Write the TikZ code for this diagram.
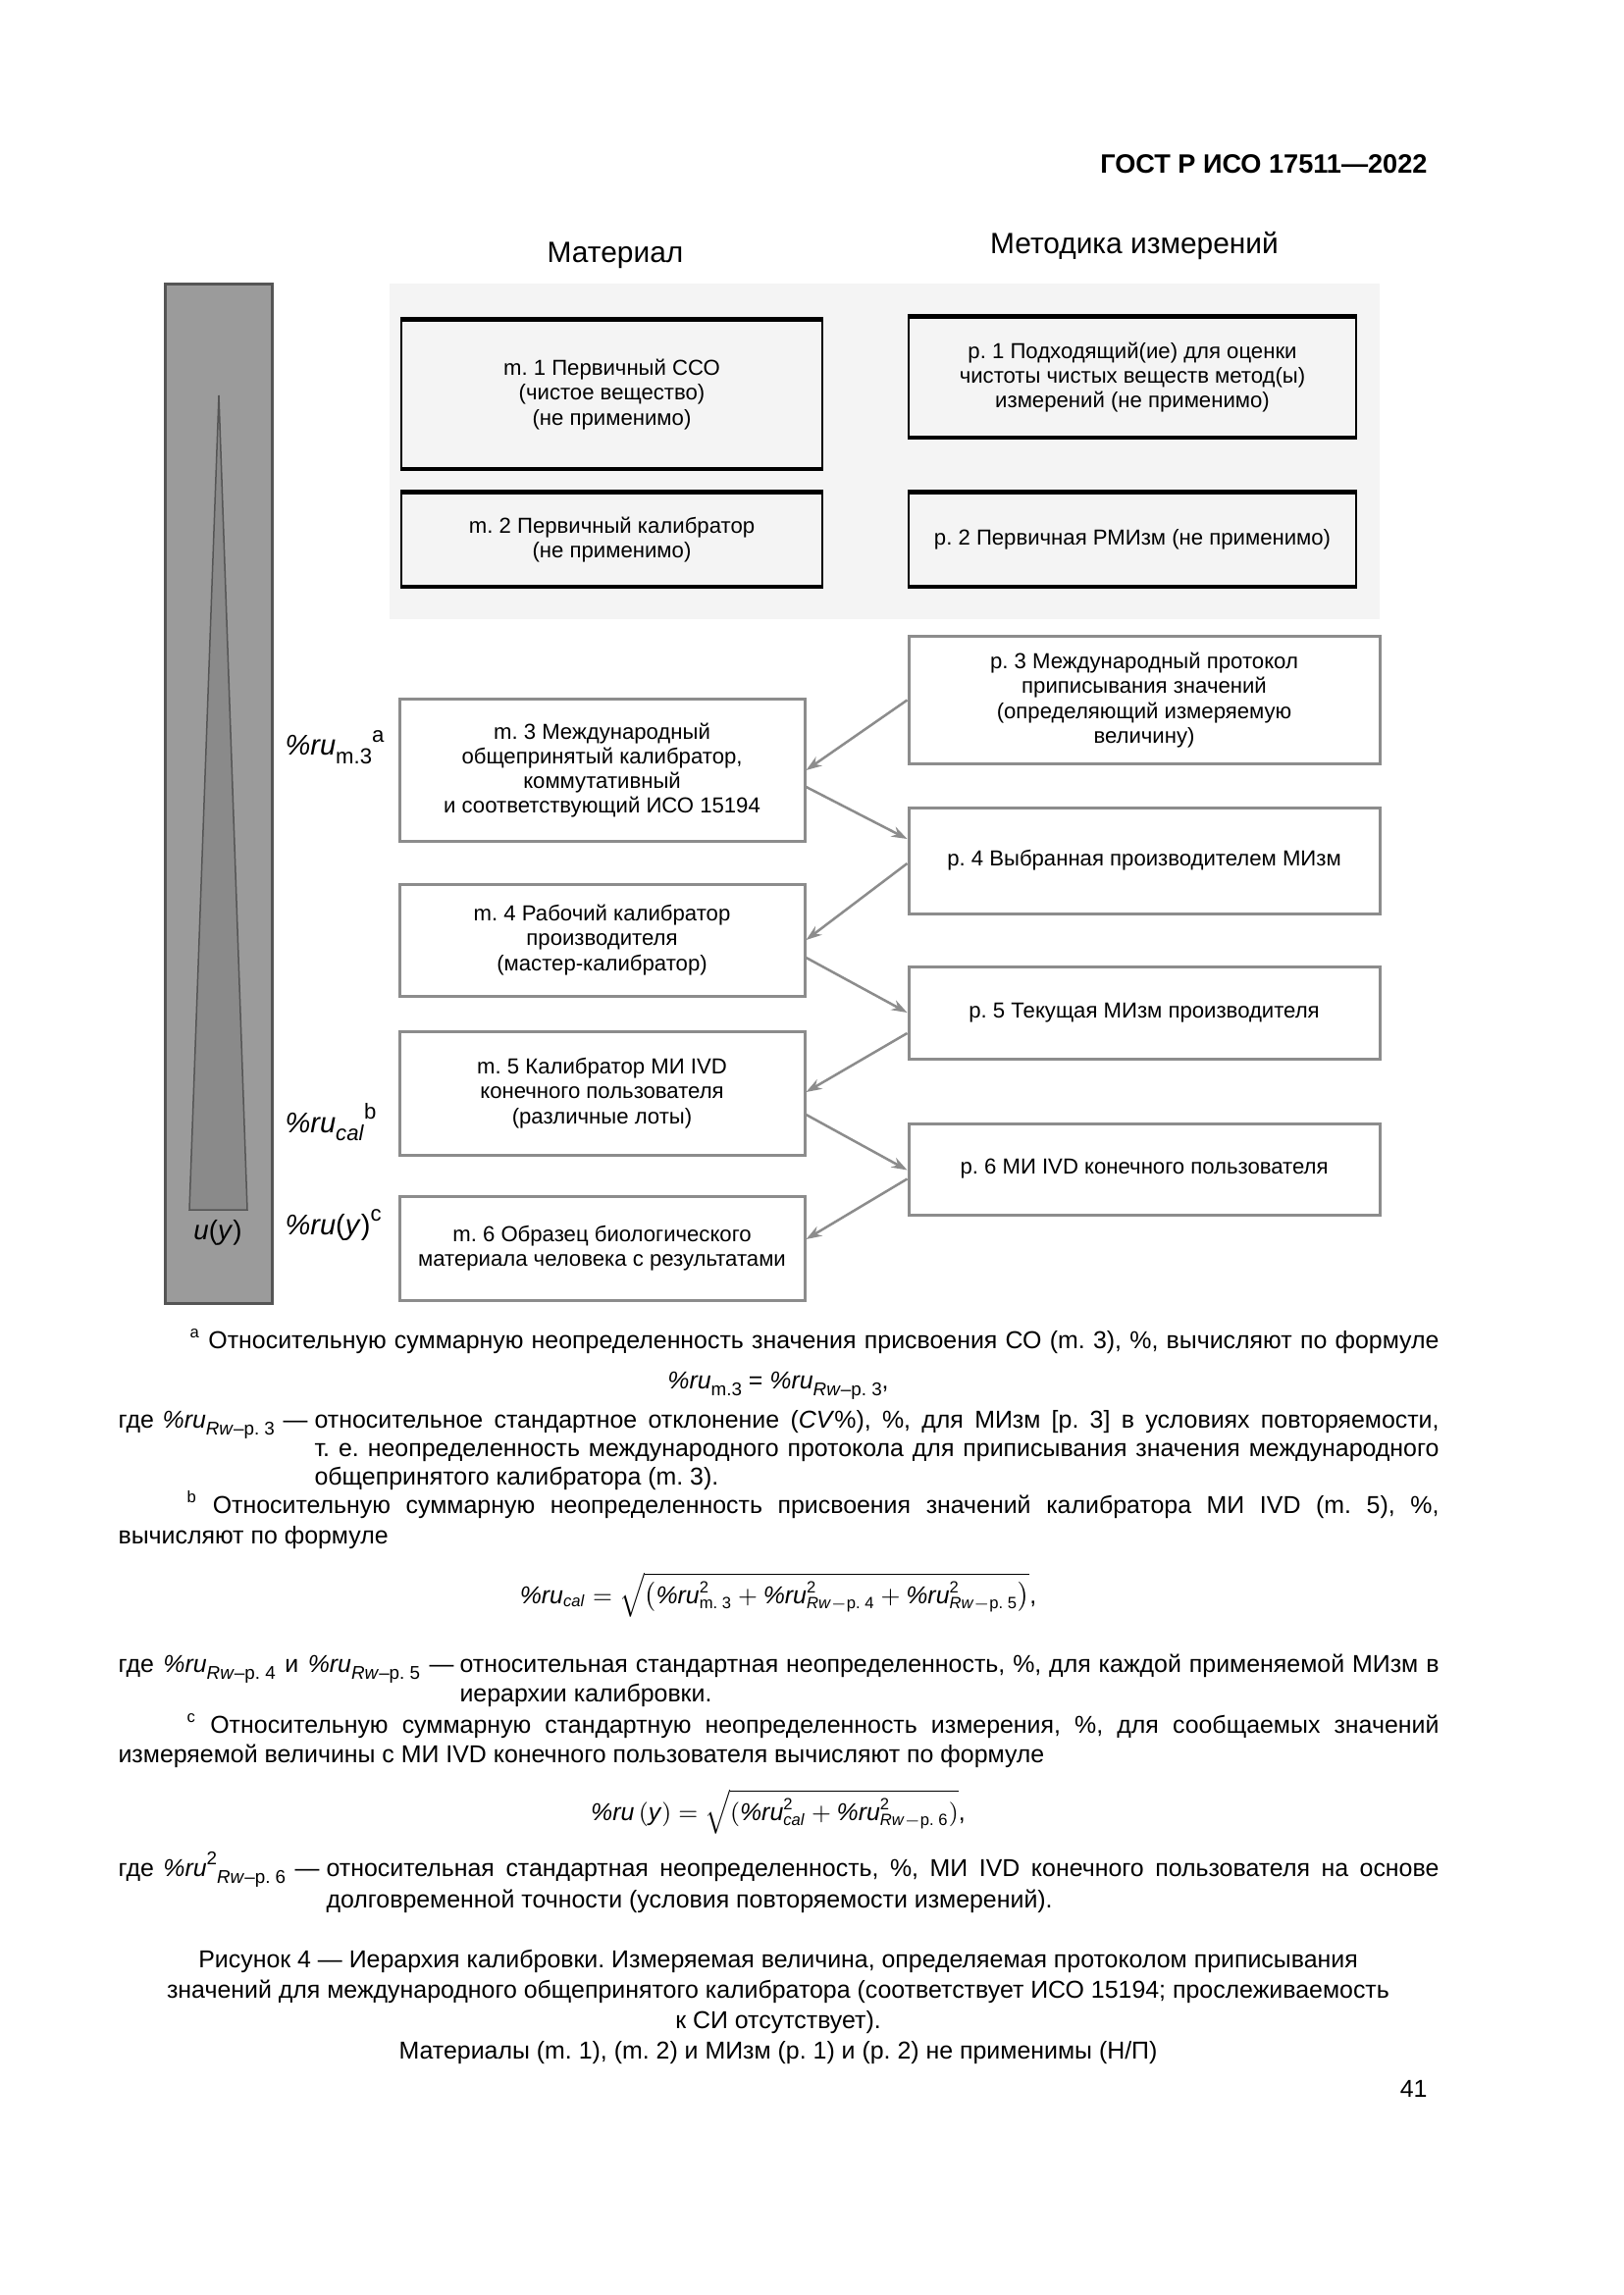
\documentclass[tikz,border=0pt]{standalone}
\usepackage{fontspec}
\usepackage{amsmath}
\setmainfont{Liberation Sans}
\usetikzlibrary{arrows.meta}
\newlength\pxu
\setlength\pxu{0.127mm}
\definecolor{boxgray}{HTML}{8C8C8C}
\definecolor{panel}{HTML}{F4F4F4}
\definecolor{barfill}{HTML}{9B9B9B}
\definecolor{trifill}{HTML}{8A8A8A}
\definecolor{bardraw}{HTML}{555555}
\newcommand\pru{\textit{\%ru}}
\newcommand\fsz[2]{\fontsize{#1}{#2}\selectfont}
\newcommand\sbs[2][6.8]{\raisebox{-0.55ex}{\fontsize{#1}{#1}\selectfont #2}}
\newcommand\sps[2][6.8]{\raisebox{0.9ex}{\fontsize{#1}{#1}\selectfont #2}}
\begin{document}
\frenchspacing
\begin{tikzpicture}[x=0.127mm,y=-0.127mm,
  topbox/.style={draw=black, line width=2.5\pxu, fill=panel, inner sep=0pt, align=center, font=\fsz{8.0}{9.1}\frenchspacing},
  lowbox/.style={draw=boxgray, line width=3\pxu, fill=white, inner sep=0pt, align=center, font=\fsz{8.0}{9.1}\frenchspacing},
  thickedge/.style={draw=black, line width=4.5\pxu},
  conn/.style={draw=boxgray, line width=2.5\pxu, -{Stealth[length=2.03mm, width=1.4mm]}},
  txt/.style={anchor=base west, inner sep=0pt, font=\fsz{9.0}{10}\frenchspacing},
  ctxt/.style={anchor=base, inner sep=0pt, font=\fsz{9.0}{10}\frenchspacing},
  lbl/.style={anchor=base west, inner sep=0pt, font=\fsz{10.5}{12}}]
\useasboundingbox (0,0) rectangle (1654,2339);
\fill[white] (0,0) rectangle (1654,2339);

% header
\node[anchor=base east, inner sep=0pt, font=\fsz{9.8}{11}\bfseries] (hdr) at (1455,177) {ГОСТ Р ИСО 17511—2022};

% column titles
\node[anchor=base, inner sep=0pt, font=\fsz{10.8}{12}] (tmat) at (627,268) {Материал};
\node[anchor=base, inner sep=0pt, font=\fsz{10.8}{12}] (tmet) at (1156,259) {Методика измерений};

% gray bar with triangle
\draw[fill=barfill, draw=bardraw, line width=3\pxu] (168,290) rectangle (277,1328);
\draw[fill=trifill, draw=bardraw, line width=1.5\pxu] (223,403) -- (252,1233) -- (193,1233) -- cycle;
\node[anchor=base, inner sep=0pt, font=\fsz{10}{12}] (uy) at (222,1263) {\textit{u}(\textit{y})};

% panel
\fill[panel] (397,289) rectangle (1406,631);

% upper boxes
\node[topbox, minimum width=429\pxu, minimum height=150\pxu] (m1) at (623.5,402) {m. 1 Первичный ССО\\(чистое вещество)\\(не применимо)};
\node[topbox, minimum width=429\pxu, minimum height=94\pxu] (m2) at (623.5,550) {m. 2 Первичный калибратор\\(не применимо)};
\node[topbox, minimum width=456\pxu, minimum height=121\pxu] (p1) at (1154,384.5) {p. 1 Подходящий(ие) для оценки\\чистоты чистых веществ метод(ы)\\измерений (не применимо)};
\node[topbox, minimum width=456\pxu, minimum height=94\pxu] (p2) at (1154,550) {p. 2 Первичная РМИзм (не применимо)};
\foreach \b in {m1,m2,p1,p2}{
  \draw[thickedge] (\b.north west) -- (\b.north east);
  \draw[thickedge] (\b.south west) -- (\b.south east);
}

% lower boxes
\node[lowbox, minimum width=480\pxu, minimum height=129\pxu] (p3) at (1166,713.5) {p. 3 Международный протокол\\приписывания значений\\(определяющий измеряемую\\величину)};
\node[lowbox, minimum width=413\pxu, minimum height=144\pxu] (m3) at (613.5,785) {m. 3 Международный\\общепринятый калибратор,\\коммутативный\\и соответствующий ИСО 15194};
\node[lowbox, minimum width=480\pxu, minimum height=108\pxu] (p4) at (1166,877) {p. 4 Выбранная производителем МИзм};
\node[lowbox, minimum width=413\pxu, minimum height=114\pxu] (m4) at (613.5,958) {m. 4 Рабочий калибратор\\производителя\\(мастер-калибратор)};
\node[lowbox, minimum width=480\pxu, minimum height=94\pxu] (p5) at (1166,1032) {p. 5 Текущая МИзм производителя};
\node[lowbox, minimum width=413\pxu, minimum height=126\pxu] (m5) at (613.5,1114) {m. 5 Калибратор МИ IVD\\конечного пользователя\\(различные лоты)};
\node[lowbox, minimum width=480\pxu, minimum height=93\pxu] (p6) at (1166,1191.5) {p. 6 МИ IVD конечного пользователя};
\node[lowbox, minimum width=413\pxu, minimum height=106\pxu] (m6) at (613.5,1272) {m. 6 Образец биологического\\материала человека с результатами};

% connectors
\draw[conn] (p3.west) -- (m3.east);
\draw[conn] ([yshift=-17\pxu]m3.east) -- ([yshift=22\pxu]p4.west);
\draw[conn] ([yshift=-3\pxu]p4.west) -- (m4.east);
\draw[conn] ([yshift=-18\pxu]m4.east) -- (p5.west);
\draw[conn] ([yshift=-21\pxu]p5.west) -- ([yshift=1\pxu]m5.east);
\draw[conn] ([yshift=-22\pxu]m5.east) -- ([yshift=-1\pxu]p6.west);
\draw[conn] ([yshift=-10\pxu]p6.west) -- ([yshift=9\pxu]m6.east);

% side labels
\node[lbl] (l1) at (290,770) {\pru\sbs[8]{m.3}\sps[8]{a}};
\node[lbl] (l2) at (290,1154) {\pru\sbs[8]{\textit{cal}}\sps[8]{b}};
\node[lbl] (l3) at (290,1258) {\pru(\textit{y})\sps[8]{c}};

% footnotes
\node[txt] (fa) at (193,1374) {\makebox[1273\pxu][s]{\textsuperscript{a} Относительную суммарную неопределенность значения присвоения СО (m. 3), \%, вычисляют по формуле}};
\node[ctxt] (f1) at (793,1415) {\pru\sbs{m.3} = \pru\sbs{\textit{Rw}–p. 3},};
\node[txt] (g1) at (120,1455) {\makebox[193\pxu][s]{где \pru\sbs{\textit{Rw}–p. 3} —}};
\node[txt] (g1a) at (320,1455) {\makebox[1146\pxu][s]{относительное стандартное отклонение (\textit{CV}\%), \%, для МИзм [p. 3] в условиях повторяемости,}};
\node[txt] (g1b) at (320,1484) {\makebox[1146\pxu][s]{т. е. неопределенность международного протокола для приписывания значения международного}};
\node[txt] (g1c) at (320,1513) {общепринятого калибратора (m. 3).};
\node[txt] (fb) at (190,1542) {\makebox[1276\pxu][s]{\textsuperscript{b} Относительную суммарную неопределенность присвоения значений калибратора МИ IVD (m. 5), \%,}};
\node[txt] (fb2) at (120,1573) {вычисляют по формуле};
\node[ctxt] (f2) at (793,1634) {$\text{\pru}_{\text{\textit{cal}}} = \sqrt{\left(\text{\pru}^{\text{2}}_{\text{m. 3}} + \text{\pru}^{\text{2}}_{\text{\textit{Rw}}-\text{p. 4}} + \text{\pru}^{\text{2}}_{\text{\textit{Rw}}-\text{p. 5}}\right)}$,};
\node[txt] (g2) at (120,1704) {\makebox[342\pxu][s]{где \pru\sbs{\textit{Rw}–p. 4} и \pru\sbs{\textit{Rw}–p. 5} —}};
\node[txt] (g2a) at (468,1704) {\makebox[998\pxu][s]{относительная стандартная неопределенность, \%, для каждой применяемой МИзм в}};
\node[txt] (g2b) at (468,1734) {иерархии калибровки.};
\node[txt] (fc) at (190,1766) {\makebox[1276\pxu][s]{\textsuperscript{c} Относительную суммарную стандартную неопределенность измерения, \%, для сообщаемых значений}};
\node[txt] (fc2) at (120,1796) {измеряемой величины с МИ IVD конечного пользователя вычисляют по формуле};
\node[ctxt] (f3) at (793,1855) {$\text{\pru}\left(\text{\textit{y}}\right) = \sqrt{(\text{\pru}^{\text{2}}_{\text{\textit{cal}}} + \text{\pru}^{\text{2}}_{\text{\textit{Rw}}-\text{p. 6}})}$,};
\node[txt] (g3) at (120,1912) {\makebox[205\pxu][s]{где \pru\sps{2}\sbs{\textit{Rw}–p. 6} —}};
\node[txt] (g3a) at (332,1912) {\makebox[1134\pxu][s]{относительная стандартная неопределенность, \%, МИ IVD конечного пользователя на основе}};
\node[txt] (g3b) at (332,1944) {долговременной точности (условия повторяемости измерений).};

% caption
\node[ctxt] (c1) at (793,2005) {Рисунок 4 — Иерархия калибровки. Измеряемая величина, определяемая протоколом приписывания};
\node[ctxt] (c2) at (793,2036) {значений для международного общепринятого калибратора (соответствует ИСО 15194; прослеживаемость};
\node[ctxt] (c3) at (793,2067) {к СИ отсутствует).};
\node[ctxt] (c4) at (793,2098) {Материалы (m. 1), (m. 2) и МИзм (p. 1) и (p. 2) не применимы (Н/П)};

% page number
\node[anchor=base east, inner sep=0pt, font=\fsz{9.0}{10}] (pg) at (1455,2137) {41};
\end{tikzpicture}
\end{document}
